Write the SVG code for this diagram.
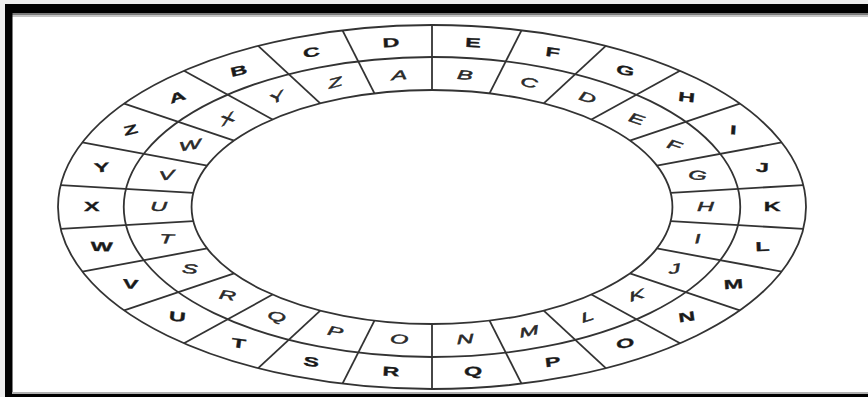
<svg xmlns="http://www.w3.org/2000/svg" width="868" height="397" viewBox="0 0 868 397">
<style>
.ring{fill:none;stroke:#333;stroke-width:1.8;vector-effect:non-scaling-stroke}
.spoke{stroke:#333;stroke-width:1.8;vector-effect:non-scaling-stroke}
.o{font-family:"Liberation Sans",Arial,sans-serif;font-weight:bold;font-size:13px;fill:#1a1a1a;stroke:#1a1a1a;stroke-width:0.3;text-anchor:middle;dominant-baseline:central}
.i{font-family:"Liberation Sans",Arial,sans-serif;font-style:italic;font-size:13px;fill:#2a2a2a;stroke:#2a2a2a;stroke-width:0.45;text-anchor:middle;dominant-baseline:central}
</style>
<rect x="0" y="0" width="868" height="397" fill="#ececec"/>
<rect x="5" y="4" width="863" height="393" fill="#ffffff"/>
<g id="frame">
<rect x="5" y="4" width="863" height="9" fill="#000"/>
<rect x="12" y="13" width="856" height="2" fill="#7a7a7a"/>
<rect x="12" y="15" width="856" height="2" fill="#c4c4c4"/>
<rect x="5" y="4" width="7.5" height="393" fill="#000"/>
<rect x="12" y="392" width="856" height="2" fill="#b0b0b0"/>
<rect x="5" y="394" width="863" height="3" fill="#000"/>
</g>
<g id="connectors" transform="translate(432,207) scale(2.055,1)">
<circle class="ring" r="182"/>
<circle class="ring" r="150"/>
<circle class="ring" r="117"/>
<line class="spoke" x1="0" y1="-117" x2="0" y2="-182" transform="rotate(0)"/>
<line class="spoke" x1="0" y1="-117" x2="0" y2="-182" transform="rotate(13.846)"/>
<line class="spoke" x1="0" y1="-117" x2="0" y2="-182" transform="rotate(27.692)"/>
<line class="spoke" x1="0" y1="-117" x2="0" y2="-182" transform="rotate(41.538)"/>
<line class="spoke" x1="0" y1="-117" x2="0" y2="-182" transform="rotate(55.385)"/>
<line class="spoke" x1="0" y1="-117" x2="0" y2="-182" transform="rotate(69.231)"/>
<line class="spoke" x1="0" y1="-117" x2="0" y2="-182" transform="rotate(83.077)"/>
<line class="spoke" x1="0" y1="-117" x2="0" y2="-182" transform="rotate(96.923)"/>
<line class="spoke" x1="0" y1="-117" x2="0" y2="-182" transform="rotate(110.769)"/>
<line class="spoke" x1="0" y1="-117" x2="0" y2="-182" transform="rotate(124.615)"/>
<line class="spoke" x1="0" y1="-117" x2="0" y2="-182" transform="rotate(138.462)"/>
<line class="spoke" x1="0" y1="-117" x2="0" y2="-182" transform="rotate(152.308)"/>
<line class="spoke" x1="0" y1="-117" x2="0" y2="-182" transform="rotate(166.154)"/>
<line class="spoke" x1="0" y1="-117" x2="0" y2="-182" transform="rotate(180)"/>
<line class="spoke" x1="0" y1="-117" x2="0" y2="-182" transform="rotate(193.846)"/>
<line class="spoke" x1="0" y1="-117" x2="0" y2="-182" transform="rotate(207.692)"/>
<line class="spoke" x1="0" y1="-117" x2="0" y2="-182" transform="rotate(221.538)"/>
<line class="spoke" x1="0" y1="-117" x2="0" y2="-182" transform="rotate(235.385)"/>
<line class="spoke" x1="0" y1="-117" x2="0" y2="-182" transform="rotate(249.231)"/>
<line class="spoke" x1="0" y1="-117" x2="0" y2="-182" transform="rotate(263.077)"/>
<line class="spoke" x1="0" y1="-117" x2="0" y2="-182" transform="rotate(276.923)"/>
<line class="spoke" x1="0" y1="-117" x2="0" y2="-182" transform="rotate(290.769)"/>
<line class="spoke" x1="0" y1="-117" x2="0" y2="-182" transform="rotate(304.615)"/>
<line class="spoke" x1="0" y1="-117" x2="0" y2="-182" transform="rotate(318.462)"/>
<line class="spoke" x1="0" y1="-117" x2="0" y2="-182" transform="rotate(332.308)"/>
<line class="spoke" x1="0" y1="-117" x2="0" y2="-182" transform="rotate(346.154)"/>
</g>
<g id="outer-ring">
<text id="o-E" class="o" transform="translate(473,42.6) rotate(3) scale(1.8,1)">E</text>
<text id="o-F" class="o" transform="translate(552.7,52.2) rotate(8) scale(1.8,1)">F</text>
<text id="o-G" class="o" transform="translate(625.3,70.7) rotate(11) scale(1.8,1)">G</text>
<text id="o-H" class="o" transform="translate(686.7,97.2) rotate(6) scale(1.8,1)">H</text>
<text id="o-I" class="o" transform="translate(733.3,130) rotate(4) scale(1.8,1)">I</text>
<text id="o-J" class="o" transform="translate(762.4,167.4) rotate(2) scale(1.8,1)">J</text>
<text id="o-K" class="o" transform="translate(772.3,207) scale(1.8,1)">K</text>
<text id="o-L" class="o" transform="translate(762.4,246.6) rotate(-2) scale(1.8,1)">L</text>
<text id="o-M" class="o" transform="translate(733.3,284) rotate(-4) scale(1.8,1)">M</text>
<text id="o-N" class="o" transform="translate(686.7,316.8) rotate(-8) scale(1.8,1)">N</text>
<text id="o-O" class="o" transform="translate(625.3,343.3) rotate(-10) scale(1.8,1)">O</text>
<text id="o-P" class="o" transform="translate(552.7,361.8) rotate(-7) scale(1.8,1)">P</text>
<text id="o-Q" class="o" transform="translate(473,371.4) rotate(-3) scale(1.8,1)">Q</text>
<text id="o-R" class="o" transform="translate(391,371.4) rotate(3) scale(1.8,1)">R</text>
<text id="o-S" class="o" transform="translate(311.3,361.8) rotate(7) scale(1.8,1)">S</text>
<text id="o-T" class="o" transform="translate(238.7,343.3) rotate(8) scale(1.8,1)">T</text>
<text id="o-U" class="o" transform="translate(177.3,316.8) rotate(6) scale(1.8,1)">U</text>
<text id="o-V" class="o" transform="translate(130.7,284) rotate(4) scale(1.8,1)">V</text>
<text id="o-W" class="o" transform="translate(101.6,246.6) rotate(2) scale(1.8,1)">W</text>
<text id="o-X" class="o" transform="translate(91.7,207) scale(1.8,1)">X</text>
<text id="o-Y" class="o" transform="translate(101.6,167.4) rotate(-4) scale(1.8,1)">Y</text>
<text id="o-Z" class="o" transform="translate(130.7,130) rotate(-14) scale(1.8,1)">Z</text>
<text id="o-A" class="o" transform="translate(177.3,97.2) rotate(-18) scale(1.8,1)">A</text>
<text id="o-B" class="o" transform="translate(238.7,70.7) rotate(-13) scale(1.8,1)">B</text>
<text id="o-C" class="o" transform="translate(311.3,52.2) rotate(-9) scale(1.8,1)">C</text>
<text id="o-D" class="o" transform="translate(391,42.6) rotate(-3) scale(1.8,1)">D</text>
</g>
<g id="inner-ring">
<text id="i-B" class="i" transform="translate(464.9,75) rotate(5) scale(1.8,1)">B</text>
<text id="i-C" class="i" transform="translate(528.9,82.6) rotate(13) scale(1.8,1)">C</text>
<text id="i-D" class="i" transform="translate(587.3,97.5) rotate(17) scale(1.8,1)">D</text>
<text id="i-E" class="i" transform="translate(636.6,118.8) rotate(18) scale(1.8,1)">E</text>
<text id="i-F" class="i" transform="translate(674.1,145.2) rotate(18) scale(1.8,1)">F</text>
<text id="i-G" class="i" transform="translate(697.4,175.2) rotate(6) scale(1.8,1)">G</text>
<text id="i-H" class="i" transform="translate(705.4,207) scale(1.8,1)">H</text>
<text id="i-I" class="i" transform="translate(697.4,238.8) rotate(-6) scale(1.8,1)">I</text>
<text id="i-J" class="i" transform="translate(674.1,268.8) rotate(-10) scale(1.8,1)">J</text>
<text id="i-K" class="i" transform="translate(636.6,295.2) rotate(-17) scale(1.8,1)">K</text>
<text id="i-L" class="i" transform="translate(587.3,316.5) rotate(-17) scale(1.8,1)">L</text>
<text id="i-M" class="i" transform="translate(528.9,331.4) rotate(-12) scale(1.8,1)">M</text>
<text id="i-N" class="i" transform="translate(464.9,339) rotate(-5) scale(1.8,1)">N</text>
<text id="i-O" class="i" transform="translate(399.1,339) rotate(5) scale(1.8,1)">O</text>
<text id="i-P" class="i" transform="translate(335.1,331.4) rotate(10) scale(1.8,1)">P</text>
<text id="i-Q" class="i" transform="translate(276.7,316.5) rotate(15) scale(1.8,1)">Q</text>
<text id="i-R" class="i" transform="translate(227.4,295.2) rotate(8) scale(1.8,1)">R</text>
<text id="i-S" class="i" transform="translate(189.9,268.8) rotate(4) scale(1.8,1)">S</text>
<text id="i-T" class="i" transform="translate(166.6,238.8) rotate(2) scale(1.8,1)">T</text>
<text id="i-U" class="i" transform="translate(158.6,207) scale(1.8,1)">U</text>
<text id="i-V" class="i" transform="translate(166.6,175.2) rotate(-6) scale(1.8,1)">V</text>
<text id="i-W" class="i" transform="translate(189.9,145.2) rotate(-10) scale(1.8,1)">W</text>
<text id="i-X" class="i" transform="translate(227.4,118.8) rotate(-25) scale(1.8,1)">X</text>
<text id="i-Y" class="i" transform="translate(276.7,97.5) rotate(-25) scale(1.8,1)">Y</text>
<text id="i-Z" class="i" transform="translate(335.1,82.6) rotate(-15) scale(1.8,1)">Z</text>
<text id="i-A" class="i" transform="translate(399.1,75) rotate(-5) scale(1.8,1)">A</text>
</g>
</svg>
